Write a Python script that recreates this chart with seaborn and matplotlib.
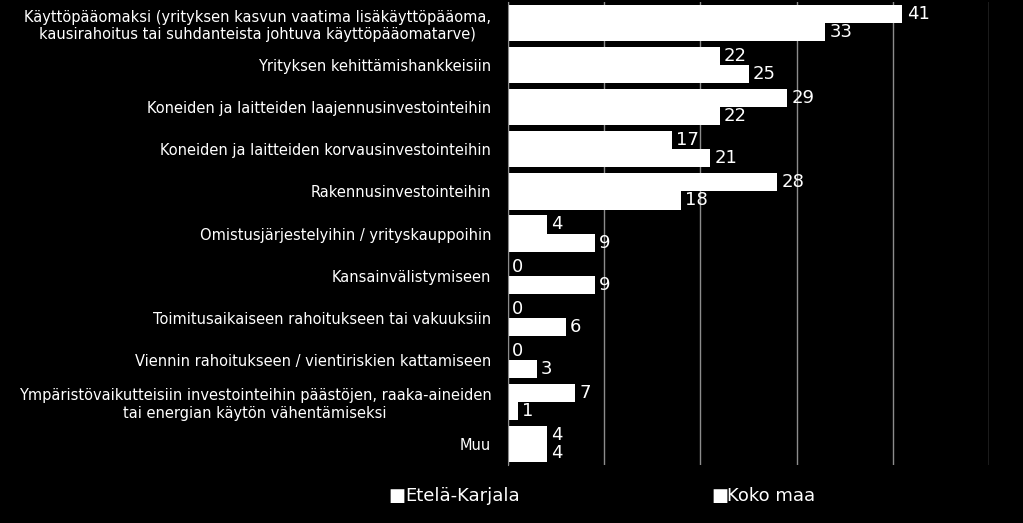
import numpy as np
import pandas as pd
import matplotlib.pyplot as plt
import seaborn as sns

# Data
categories = [
    "Käyttöpääomaksi (yrityksen kasvun vaatima lisäkäyttöpääoma,\nkausirahoitus tai suhdanteista johtuva käyttöpääomatarve)",
    "Yrityksen kehittämishankkeisiin",
    "Koneiden ja laitteiden laajennusinvestointeihin",
    "Koneiden ja laitteiden korvausinvestointeihin",
    "Rakennusinvestointeihin",
    "Omistusjärjestelyihin / yrityskauppoihin",
    "Kansainvälistymiseen",
    "Toimitusaikaiseen rahoitukseen tai vakuuksiin",
    "Viennin rahoitukseen / vientiriskien kattamiseen",
    "Ympäristövaikutteisiin investointeihin päästöjen, raaka-aineiden\ntai energian käytön vähentämiseksi",
    "Muu",
]
etela_karjala = [41, 22, 29, 17, 28, 4, 0, 0, 0, 7, 4]
koko_maa = [33, 25, 22, 21, 18, 9, 9, 6, 3, 1, 4]
series_names = ["Etelä-Karjala", "Koko maa"]

df = pd.DataFrame({
    "category": categories * 2,
    "value": etela_karjala + koko_maa,
    "series": [series_names[0]] * len(categories) + [series_names[1]] * len(categories),
})

fig = plt.figure(figsize=(10.23, 5.23), dpi=100, facecolor="black")
ax = fig.add_axes([0.4966, 0.111, 0.4702, 0.885], facecolor="black")

sns.barplot(data=df, y="category", x="value", hue="series", orient="h",
            palette=["white", "white"], width=0.86, edgecolor="none",
            saturation=1, ax=ax, legend=False)

ax.set_xlim(0, 50)
ax.set_xticks([0, 10, 20, 30, 40, 50])
ax.xaxis.grid(True, color="#8c8c8c", linewidth=1)
ax.set_axisbelow(True)
ax.set_xticklabels([])
ax.tick_params(axis="x", length=0)
ax.tick_params(axis="y", length=0, labelsize=10.5, labelcolor="white", pad=12)
for lbl in ax.get_yticklabels():
    lbl.set_multialignment("center")
ax.set_xlabel("")
ax.set_ylabel("")
for s in ax.spines.values():
    s.set_visible(False)
ax.spines["left"].set_visible(True)
ax.spines["left"].set_color("#8c8c8c")

for cont in ax.containers:
    ax.bar_label(cont, color="white", fontsize=13, padding=3)

# legend below the chart
for xf, name in [(0.38, series_names[0]), (0.695, series_names[1])]:
    fig.text(xf, 0.051, "■", color="white", fontsize=13, va="center")
    fig.text(xf + 0.016, 0.051, name, color="white", fontsize=13, va="center")

fig.savefig("out.png", facecolor="black")
